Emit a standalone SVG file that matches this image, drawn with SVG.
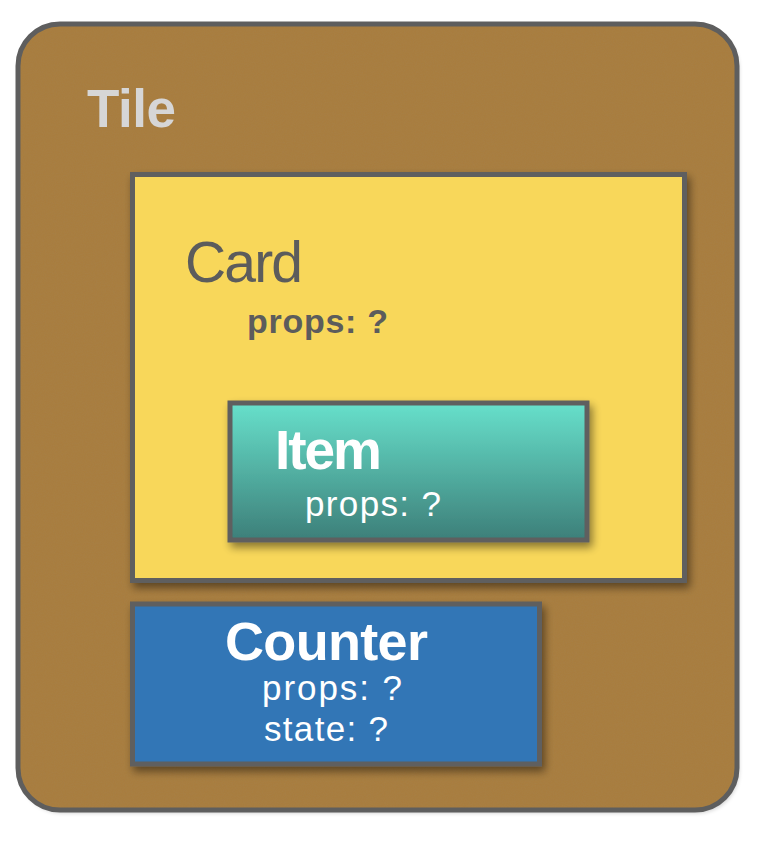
<svg xmlns="http://www.w3.org/2000/svg" width="758" height="844" viewBox="0 0 758 844">
<style>
.box{stroke:#5e5e5e;stroke-width:5}
.t{font-family:"Liberation Sans",Arial,sans-serif}
.w{fill:#ffffff}
</style>
<defs>
<linearGradient id="itemGrad" x1="0" y1="0" x2="0" y2="1">
<stop offset="0" stop-color="#67e0cb"/>
<stop offset="1" stop-color="#3d7f79"/>
</linearGradient>
<filter id="shadow" x="-10%" y="-10%" width="125%" height="130%">
<feGaussianBlur in="SourceAlpha" stdDeviation="4"/>
<feOffset dx="3" dy="5" result="b"/>
<feComponentTransfer><feFuncA type="linear" slope="0.45"/></feComponentTransfer>
<feMerge><feMergeNode/><feMergeNode in="SourceGraphic"/></feMerge>
</filter>
<filter id="tshadow" x="-5%" y="-5%" width="110%" height="110%">
<feGaussianBlur in="SourceAlpha" stdDeviation="2"/>
<feOffset dx="2" dy="3"/>
<feComponentTransfer><feFuncA type="linear" slope="0.2"/></feComponentTransfer>
<feMerge><feMergeNode/><feMergeNode in="SourceGraphic"/></feMerge>
</filter>
<filter id="noise" x="0" y="0" width="100%" height="100%">
<feTurbulence type="fractalNoise" baseFrequency="0.9" numOctaves="2" seed="3"/>
<feColorMatrix type="matrix" values="0 0 0 0 0.35  0 0 0 0 0.25  0 0 0 0 0.1  0 0 0 0.25 0"/>
<feComposite in2="SourceGraphic" operator="in"/>
</filter>
<clipPath id="tileClip"><rect x="18" y="24" width="719" height="786" rx="42"/></clipPath>
</defs>

<g id="tile">
<rect x="18" y="24" width="719" height="786" rx="42" fill="#a97c3d" filter="url(#tshadow)"/>
<rect x="18" y="24" width="719" height="786" fill="#a97c3d" clip-path="url(#tileClip)" filter="url(#noise)"/>
<rect class="box" x="18" y="24" width="719" height="786" rx="42" fill="none"/>
<text class="t" x="87" y="127" font-size="53" font-weight="bold" fill="#d6d6d6" textLength="89">Tile</text>
</g>

<g id="card">
<rect class="box" x="132.5" y="174.5" width="552" height="406" fill="#f8d75a" filter="url(#shadow)"/>
<text class="t" x="185" y="282" font-size="57" fill="#5c5c5c" textLength="118">Card</text>
<text class="t" x="247" y="333" font-size="34" font-weight="bold" fill="#5c5c5c" textLength="141">props: ?</text>
</g>

<g id="item">
<rect class="box" x="230" y="403" width="357" height="137" fill="url(#itemGrad)" filter="url(#shadow)"/>
<text class="t w" x="275" y="469" font-size="55" font-weight="bold" textLength="107">Item</text>
<text class="t w" x="305" y="516" font-size="35" textLength="136">props: ?</text>
</g>

<g id="counter">
<rect class="box" x="132.5" y="604" width="407" height="160" fill="#3176b6" filter="url(#shadow)"/>
<text class="t w" x="225" y="660" font-size="54" font-weight="bold" textLength="203">Counter</text>
<text class="t w" x="262" y="700" font-size="35" textLength="140">props: ?</text>
<text class="t w" x="264" y="741" font-size="35" textLength="124">state: ?</text>
</g>

<g id="connectors"/>
</svg>
